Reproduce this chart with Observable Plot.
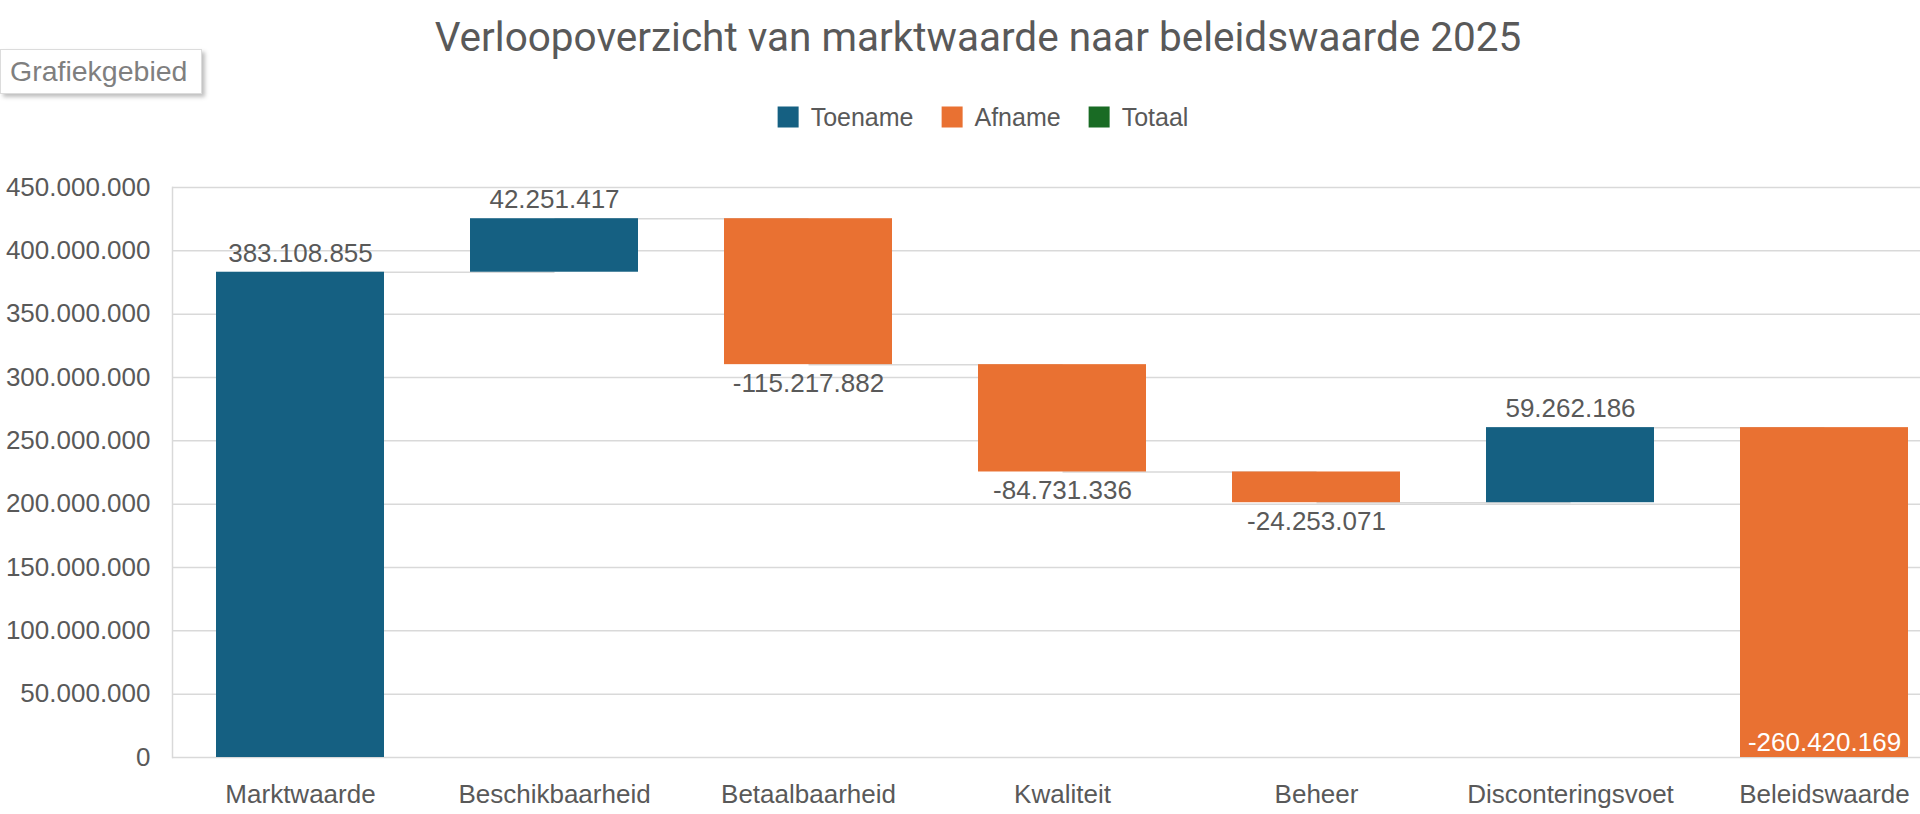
<!DOCTYPE html>
<html>
<head>
<meta charset="utf-8">
<script src="https://cdn.jsdelivr.net/npm/d3@7"></script>
<script src="https://cdn.jsdelivr.net/npm/@observablehq/plot@0.6"></script>
<style>
  html, body { margin: 0; padding: 0; background: #ffffff; }
  #page { position: relative; width: 1920px; height: 814px; overflow: hidden; font-family: "Liberation Sans", Arial, sans-serif; color: #595959; }
  #header { position: relative; height: 150px; }
  #title { position: absolute; left: 978px; top: 37px; transform: translate(-50%, -50%); white-space: nowrap; font-family: Roboto, "Liberation Sans", sans-serif; font-size: 40.5px; color: #595959; }
  #tip { position: absolute; left: 0px; top: 49px; width: 202px; height: 45px; box-sizing: border-box; background: #fff; border: 1px solid #dcdcdc; box-shadow: 3px 3px 4px rgba(0,0,0,0.25); font-size: 28.5px; color: #7f7f7f; line-height: 43px; padding-left: 9px; white-space: nowrap; }
  #legend { position: absolute; left: 983px; top: 117px; transform: translate(-50%, -50%); display: flex; align-items: center; white-space: nowrap; font-size: 25px; color: #595959; }
  .item { display: flex; align-items: center; margin: 0 14px; }
  .sw { width: 21px; height: 21px; margin-right: 12px; }
  #chart svg { display: block; }
</style>
</head>
<body>
<div id="page">
  <div id="header">
    <div id="title"></div>
    <div id="tip"></div>
    <div id="legend"></div>
  </div>
  <div id="chart"></div>
</div>
<script>
const titleText = "Verloopoverzicht van marktwaarde naar beleidswaarde 2025";
const tipText = "Grafiekgebied";
const categories = ["Marktwaarde", "Beschikbaarheid", "Betaalbaarheid", "Kwaliteit", "Beheer", "Disconteringsvoet", "Beleidswaarde"];
const changes = [383108855, 42251417, -115217882, -84731336, -24253071, 59262186, -260420169];
const yTicks = [0, 50000000, 100000000, 150000000, 200000000, 250000000, 300000000, 350000000, 400000000, 450000000];
const legendNames = ["Toename", "Afname", "Totaal"];
const legendColors = ["#156082", "#E97132", "#196B24"];

const nl = d3.formatLocale({decimal: ",", thousands: ".", grouping: [3], currency: ["€", ""], minus: "-"});
const fmt = nl.format(",d");

document.getElementById("title").textContent = titleText;
document.getElementById("tip").textContent = tipText;
const legend = document.getElementById("legend");
legendNames.forEach((name, i) => {
  const it = document.createElement("div");
  it.className = "item";
  const sw = document.createElement("div");
  sw.className = "sw";
  sw.style.background = legendColors[i];
  const lb = document.createElement("span");
  lb.textContent = name;
  it.appendChild(sw); it.appendChild(lb);
  legend.appendChild(it);
});

// waterfall rows
let run = 0;
const rows = categories.map((cat, i) => {
  const start = run;
  const end = run + changes[i];
  run = end;
  return {cat, i, start, end, change: changes[i], kind: changes[i] >= 0 ? "Toename" : "Afname"};
});
const last = rows.length - 1;
const connectors = rows.slice(0, -1).map((r, i) => ({from: r.cat, to: rows[i + 1].cat, value: r.end}));
const colorOf = k => legendColors[legendNames.indexOf(k)];

const chart = Plot.plot({
  width: 1920,
  height: 664,
  marginTop: 37,
  marginBottom: 57,
  marginLeft: 172,
  marginRight: 0,
  style: {fontFamily: "'Liberation Sans', Arial, sans-serif", fontSize: "26px", color: "#595959", background: "transparent"},
  x: {type: "band", domain: categories, range: [172, 1951], paddingInner: 0.34, paddingOuter: 0.17},
  y: {domain: [0, 450000000]},
  marks: [
    Plot.ruleY(yTicks, {stroke: "#d9d9d9", strokeWidth: 1.5}),
    Plot.frame({anchor: "left", stroke: "#d9d9d9", strokeWidth: 1.5}),
    Plot.link(connectors, {x1: "from", x2: "to", y1: "value", y2: "value", stroke: "#d9d9d9", strokeWidth: 1.5}),
    Plot.barY(rows, {x: "cat", y1: "start", y2: "end", fill: d => colorOf(d.kind)}),
    Plot.text(rows.filter(d => d.change >= 0), {x: "cat", y: "end", text: d => fmt(d.change), dy: -19, fill: "#595959", fontSize: 26}),
    Plot.text(rows.filter((d, i) => d.change < 0 && d.i !== last), {x: "cat", y: "end", text: d => fmt(d.change), dy: 19, fill: "#595959", fontSize: 26}),
    Plot.text(rows.filter(d => d.i === last), {x: "cat", y: "end", text: d => fmt(d.change), dy: -15, fill: "#ffffff", fontSize: 26}),
    Plot.axisY({ticks: yTicks, tickFormat: fmt, tickSize: 0, tickPadding: 22, label: null, fontSize: 26}),
    Plot.axisX({tickSize: 0, tickPadding: 27, label: null, fontSize: 26})
  ]
});
document.getElementById("chart").appendChild(chart);
</script>
</body>
</html>
